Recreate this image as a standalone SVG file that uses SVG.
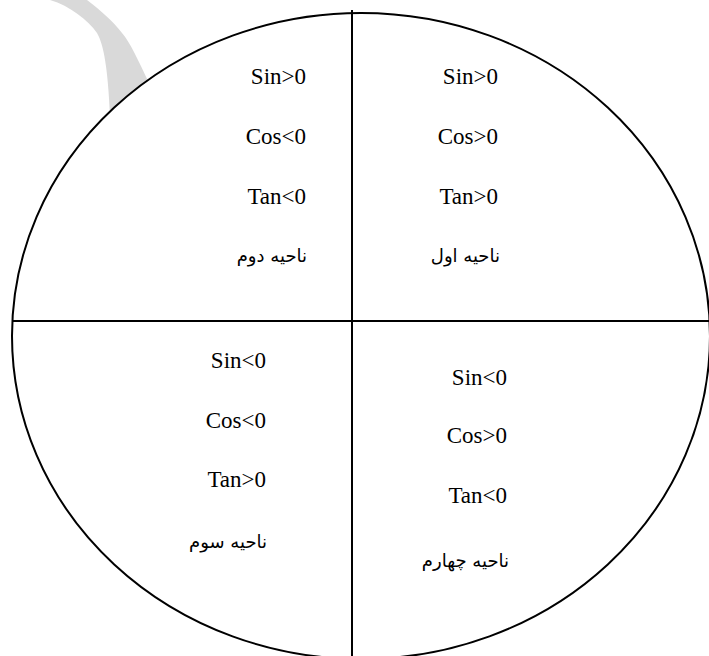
<svg xmlns="http://www.w3.org/2000/svg" width="709" height="656" viewBox="0 0 709 656">
<style>
.ln{stroke:#000;stroke-width:2;fill:none}
.t{font-family:"Liberation Serif","Times New Roman",serif;font-size:23px;fill:#000;text-anchor:end}
.a{font-family:"DejaVu Sans",sans-serif;font-size:18px;fill:#000;text-anchor:end}
</style>
<rect width="709" height="656" fill="#fff"/>
<path d="M50,0 C70,6 88,20 97,33 C104,45 108,70 110,115 L150,85 C138,60 130,42 122,33 C112,20 100,10 87,0 Z" fill="#d9d9d9"/>
<g id="circle"><ellipse cx="361" cy="336" rx="349" ry="323" fill="#fff" stroke="#000" stroke-width="2"/></g>
<g id="axes">
<line class="ln" x1="352" y1="10" x2="352" y2="656"/>
<line class="ln" x1="12" y1="321" x2="709" y2="321"/>
</g>
<g id="q1">
<text class="t" x="498" y="84">Sin&gt;0</text>
<text class="t" x="498" y="144">Cos&gt;0</text>
<text class="t" x="498" y="204">Tan&gt;0</text>
<text class="a" x="500" y="262">ناحیه اول</text>
</g>
<g id="q2">
<text class="t" x="306" y="84">Sin&gt;0</text>
<text class="t" x="306" y="144">Cos&lt;0</text>
<text class="t" x="306" y="204">Tan&lt;0</text>
<text class="a" x="307" y="262">ناحیه دوم</text>
</g>
<g id="q3">
<text class="t" x="266" y="368">Sin&lt;0</text>
<text class="t" x="266" y="428">Cos&lt;0</text>
<text class="t" x="266" y="487">Tan&gt;0</text>
<text class="a" x="267" y="548">ناحیه سوم</text>
</g>
<g id="q4">
<text class="t" x="507" y="385">Sin&lt;0</text>
<text class="t" x="507" y="443">Cos&gt;0</text>
<text class="t" x="507" y="503">Tan&lt;0</text>
<text class="a" x="509" y="567">ناحیه چهارم</text>
</g>
</svg>
